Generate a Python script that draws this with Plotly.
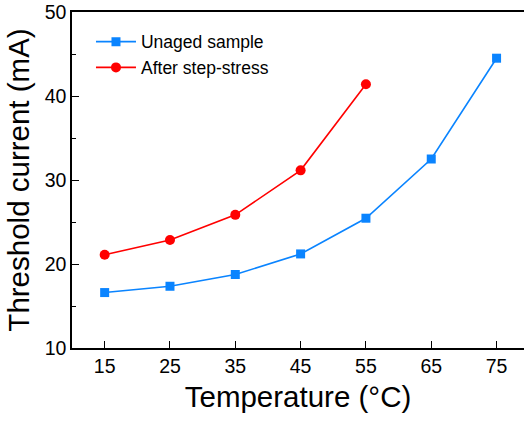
import plotly.graph_objects as go

temps_unaged = [15, 25, 35, 45, 55, 65, 75]
current_unaged = [16.6, 17.35, 18.75, 21.2, 25.45, 32.5, 44.5]
temps_stress = [15, 25, 35, 45, 55]
current_stress = [21.1, 22.85, 25.85, 31.15, 41.4]
x_ticks = [15, 25, 35, 45, 55, 65, 75]
y_ticks = [10, 20, 30, 40, 50]

FONT = "Liberation Sans, Arial, sans-serif"

fig = go.Figure()
fig.add_trace(go.Scatter(
    x=temps_unaged, y=current_unaged, mode="lines+markers", name="Unaged sample",
    line=dict(color="#0a84ff", width=1.6),
    marker=dict(symbol="square", size=9, color="#0a84ff"),
))
fig.add_trace(go.Scatter(
    x=temps_stress, y=current_stress, mode="lines+markers", name="After step-stress",
    line=dict(color="#ff0000", width=1.6),
    marker=dict(symbol="circle", size=10, color="#ff0000"),
))

fig.update_layout(
    width=524, height=423,
    margin=dict(l=72, r=0, t=12, b=75),
    paper_bgcolor="white", plot_bgcolor="white",
    font=dict(family=FONT, color="black"),
    showlegend=True,
    legend=dict(x=0.042, y=0.965, xanchor="left", yanchor="top",
                bgcolor="rgba(0,0,0,0)", font=dict(size=17.5, family=FONT),
                tracegroupgap=0, itemwidth=40),
    xaxis=dict(
        range=[10, 79.2], tickvals=x_ticks, ticktext=[str(v) for v in x_ticks],
        ticks="inside", ticklen=7, tickwidth=1.3, tickcolor="black",
        showline=True, linecolor="black", linewidth=1.5, mirror=True,
        showgrid=False, zeroline=False,
        tickfont=dict(size=19.5, family=FONT),
        title=dict(text="Temperature (°C)", font=dict(size=29.5, family=FONT), standoff=10),
    ),
    yaxis=dict(
        range=[10, 50], tickvals=y_ticks,
        ticks="inside", ticklen=7, tickwidth=1.3, tickcolor="black",
        minor=dict(tickvals=[15, 25, 35, 45], ticks="inside", ticklen=4, tickwidth=1.3, tickcolor="black"),
        showline=True, linecolor="black", linewidth=1.5, mirror=False,
        showgrid=False, zeroline=False,
        tickfont=dict(size=19.5, family=FONT),
        title=dict(text="Threshold current (mA)", font=dict(size=29.5, family=FONT), standoff=6),
    ),
)

fig.write_html("out.html")
